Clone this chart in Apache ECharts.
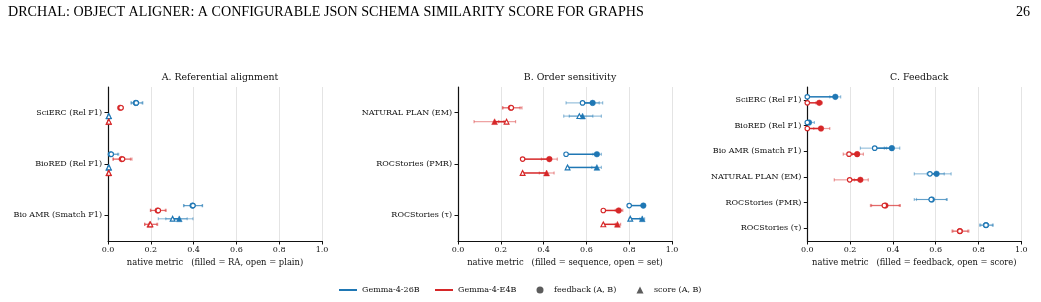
<!DOCTYPE html>
<html><head><meta charset="utf-8">
<script src="https://cdn.jsdelivr.net/npm/echarts@6/dist/echarts.min.js"></script>
<style>html,body{margin:0;padding:0;background:#fff}#c{width:1041px;height:302px}</style>
</head><body><div id="c"></div>
<script>
// ---- data ----
const catsA = ['SciERC (Rel F1)', 'BioRED (Rel F1)', 'Bio AMR (Smatch F1)'];
const catsB = ['NATURAL PLAN (EM)', 'ROCStories (PMR)', 'ROCStories (τ)'];
const catsC = ['SciERC (Rel F1)', 'BioRED (Rel F1)', 'Bio AMR (Smatch F1)', 'NATURAL PLAN (EM)', 'ROCStories (PMR)', 'ROCStories (τ)'];
const xTicks = [0, 0.2, 0.4, 0.6, 0.8, 1.0];
// each row: [open, filled, openLo, openHi, filledLo, filledHi]
const A_26B_feedback = [[0.132,0.130,0.107,0.160,0.110,0.163],[0.015,0.013,0.003,0.050,0.002,0.045],[0.397,0.395,0.353,0.442,0.355,0.440]];
const A_E4B_feedback = [[0.061,0.057,0.052,0.070,0.050,0.066],[0.068,0.064,0.023,0.112,0.025,0.105],[0.235,0.232,0.198,0.272,0.200,0.268]];
const A_26B_score    = [[0.004,0.003,0.000,0.008,0.000,0.006],[0.004,0.003,0.000,0.008,0.000,0.006],[0.302,0.333,0.235,0.370,0.270,0.397]];
const A_E4B_score    = [[0.004,0.003,0.000,0.006,0.000,0.005],[0.004,0.003,0.000,0.006,0.000,0.005],[0.198,0.195,0.171,0.232,0.172,0.228]];
const B_26B_feedback = [[0.582,0.629,0.505,0.660,0.590,0.676],[0.505,0.649,0.500,0.510,0.630,0.670],[0.800,0.866,0.795,0.806,0.860,0.872]];
const B_E4B_feedback = [[0.249,0.247,0.208,0.299,0.210,0.290],[0.302,0.427,0.298,0.306,0.390,0.464],[0.679,0.751,0.675,0.684,0.735,0.770]];
const B_26B_score    = [[0.567,0.582,0.494,0.630,0.520,0.670],[0.512,0.649,0.507,0.517,0.625,0.670],[0.805,0.861,0.800,0.810,0.850,0.872]];
const B_E4B_score    = [[0.227,0.171,0.190,0.269,0.075,0.215],[0.302,0.414,0.298,0.306,0.380,0.449],[0.679,0.745,0.675,0.684,0.735,0.760]];
const C_26B = [[0.000,0.131,0.000,0.004,0.105,0.156],[0.000,0.008,0.000,0.004,0.000,0.033],[0.315,0.395,0.248,0.370,0.360,0.432],[0.573,0.604,0.500,0.640,0.560,0.672],[0.579,0.582,0.500,0.650,0.510,0.654],[0.835,0.835,0.805,0.865,0.810,0.869]];
const C_E4B = [[0.000,0.056,0.000,0.004,0.040,0.070],[0.000,0.064,0.000,0.004,0.030,0.105],[0.195,0.233,0.168,0.230,0.210,0.262],[0.198,0.248,0.126,0.240,0.220,0.285],[0.360,0.365,0.295,0.430,0.300,0.435],[0.713,0.713,0.676,0.750,0.680,0.755]];

// ---- style ----
const BLUE = '#1f77b4', RED = '#d62728';
const FONT = 'DejaVu Serif';
const chart = echarts.init(document.getElementById('c'), null, {renderer: 'canvas'});

function makeRender(color, shape, offFrac) {
  return function (params, api) {
    const cat = api.value(0);
    const vals = [1,2,3,4,5,6].map(i => api.value(i));
    const band = api.size([0, 1])[1];
    const y = api.coord([0, cat])[1] + offFrac * band;
    const X = v => api.coord([v, cat])[0];
    const ch = [];
    const errStyle = {stroke: color, lineWidth: 1.2, opacity: 0.45};
    [[vals[2], vals[3]], [vals[4], vals[5]]].forEach(([lo, hi]) => {
      ch.push({type: 'line', shape: {x1: X(lo), y1: y, x2: X(hi), y2: y}, style: errStyle});
      ch.push({type: 'line', shape: {x1: X(lo), y1: y - 1.6, x2: X(lo), y2: y + 1.6}, style: errStyle});
      ch.push({type: 'line', shape: {x1: X(hi), y1: y - 1.6, x2: X(hi), y2: y + 1.6}, style: errStyle});
    });
    ch.push({type: 'line', shape: {x1: X(vals[0]), y1: y, x2: X(vals[1]), y2: y}, style: {stroke: color, lineWidth: 1.5}});
    function marker(x, filled) {
      if (shape === 'circle') {
        return filled
          ? {type: 'circle', shape: {cx: x, cy: y, r: 2.8}, style: {fill: color, stroke: color, lineWidth: 0.5}}
          : {type: 'circle', shape: {cx: x, cy: y, r: 2.25}, style: {fill: '#fff', stroke: color, lineWidth: 1.15}};
      }
      const s = filled ? 2.9 : 2.4;
      const pts = [[x, y - s], [x - s, y + s], [x + s, y + s]];
      return filled
        ? {type: 'polygon', shape: {points: pts}, style: {fill: color, stroke: color, lineWidth: 0.5}}
        : {type: 'polygon', shape: {points: pts}, style: {fill: '#fff', stroke: color, lineWidth: 1.15}};
    }
    ch.push(marker(X(vals[1]), true));
    ch.push(marker(X(vals[0]), false));
    return {type: 'group', children: ch};
  };
}

function rowSeries(gi, arr, color, shape, off) {
  return {
    type: 'custom', xAxisIndex: gi, yAxisIndex: gi, z: 5,
    renderItem: makeRender(color, shape, off),
    data: arr.map((r, i) => [i].concat(r)),
    silent: true
  };
}

const lefts = [108, 458, 807.3];
const titles = ['A. Referential alignment', 'B. Order sensitivity', 'C. Feedback'];
const xNames = ['native metric   (filled = RA, open = plain)', 'native metric   (filled = sequence, open = set)', 'native metric   (filled = feedback, open = score)'];
const cats = [catsA, catsB, catsC];
const W = 214, TOP = 87, H = 154;
const legText = {fontFamily: FONT, fontSize: 8, color: '#111'};

const option = {
  animation: false,
  backgroundColor: '#fff',
  title: [
    {text: 'DRCHAL: OBJECT ALIGNER: A CONFIGURABLE JSON SCHEMA SIMILARITY SCORE FOR GRAPHS', left: 3, top: 0,
     textStyle: {fontFamily: 'Liberation Serif', fontSize: 14.1, fontWeight: 'normal', color: '#000'}},
    {text: '26', right: 6, top: 0, textStyle: {fontFamily: 'Liberation Serif', fontSize: 14.1, fontWeight: 'normal', color: '#000'}}
  ].concat(titles.map((t, i) => ({
    text: t, left: lefts[i] + W / 2, top: 68, textAlign: 'center',
    textStyle: {fontFamily: FONT, fontSize: 9.4, fontWeight: 'normal', color: '#111'}
  }))),
  grid: lefts.map(l => ({left: l, top: TOP, width: W, height: H, containLabel: false})),
  xAxis: lefts.map((l, i) => ({
    gridIndex: i, type: 'value', min: 0, max: 1, interval: 0.2,
    name: xNames[i], nameLocation: 'middle', nameGap: 18,
    nameTextStyle: {fontFamily: FONT, fontSize: 8.4, color: '#111'},
    axisLine: {show: true, lineStyle: {color: '#111', width: 1}},
    axisTick: {show: true, length: 3.5, lineStyle: {color: '#111'}},
    axisLabel: {fontFamily: FONT, fontSize: 8, color: '#111', margin: 5, formatter: v => xTicks.includes(+v.toFixed(1)) ? v.toFixed(1) : ''},
    splitLine: {show: true, lineStyle: {color: '#e4e4e4', width: 1}}
  })),
  yAxis: cats.map((c, i) => ({
    gridIndex: i, type: 'category', data: c, inverse: true,
    axisLine: {show: true, lineStyle: {color: '#111', width: 1.2}},
    axisTick: {show: true, alignWithLabel: true, length: 3.5, lineStyle: {color: '#111'}},
    axisLabel: {fontFamily: FONT, fontSize: 8, color: '#111', margin: 6},
    splitLine: {show: false}
  })),
  legend: [
    {left: 334, top: 281, itemWidth: 18, itemHeight: 2, data: [{name: 'Gemma-4-26B', icon: 'rect'}], textStyle: legText, selectedMode: false},
    {left: 430, top: 281, itemWidth: 18, itemHeight: 2, data: [{name: 'Gemma-4-E4B', icon: 'rect'}], textStyle: legText, selectedMode: false},
    {left: 531.5, top: 281, itemWidth: 7, itemHeight: 7, data: [{name: 'feedback (A, B)', icon: 'circle'}], textStyle: Object.assign({padding: [0, 0, 0, 5.5]}, legText), selectedMode: false},
    {left: 631.5, top: 281, itemWidth: 7, itemHeight: 7, data: [{name: 'score (A, B)', icon: 'triangle'}], textStyle: Object.assign({padding: [0, 0, 0, 5.5]}, legText), selectedMode: false}
  ],
  series: [
    {name: 'Gemma-4-26B', type: 'line', data: [], itemStyle: {color: BLUE}, lineStyle: {color: BLUE}},
    {name: 'Gemma-4-E4B', type: 'line', data: [], itemStyle: {color: RED}, lineStyle: {color: RED}},
    {name: 'feedback (A, B)', type: 'scatter', data: [], itemStyle: {color: '#333'}},
    {name: 'score (A, B)', type: 'scatter', data: [], itemStyle: {color: '#333'}},
    rowSeries(0, A_26B_feedback, BLUE, 'circle', -0.19),
    rowSeries(0, A_E4B_feedback, RED, 'circle', -0.095),
    rowSeries(0, A_26B_score, BLUE, 'triangle', 0.067),
    rowSeries(0, A_E4B_score, RED, 'triangle', 0.175),
    rowSeries(1, B_26B_feedback, BLUE, 'circle', -0.19),
    rowSeries(1, B_E4B_feedback, RED, 'circle', -0.095),
    rowSeries(1, B_26B_score, BLUE, 'triangle', 0.067),
    rowSeries(1, B_E4B_score, RED, 'triangle', 0.175),
    rowSeries(2, C_26B, BLUE, 'circle', -0.117),
    rowSeries(2, C_E4B, RED, 'circle', 0.117)
  ]
};
chart.setOption(option);
</script></body></html>
